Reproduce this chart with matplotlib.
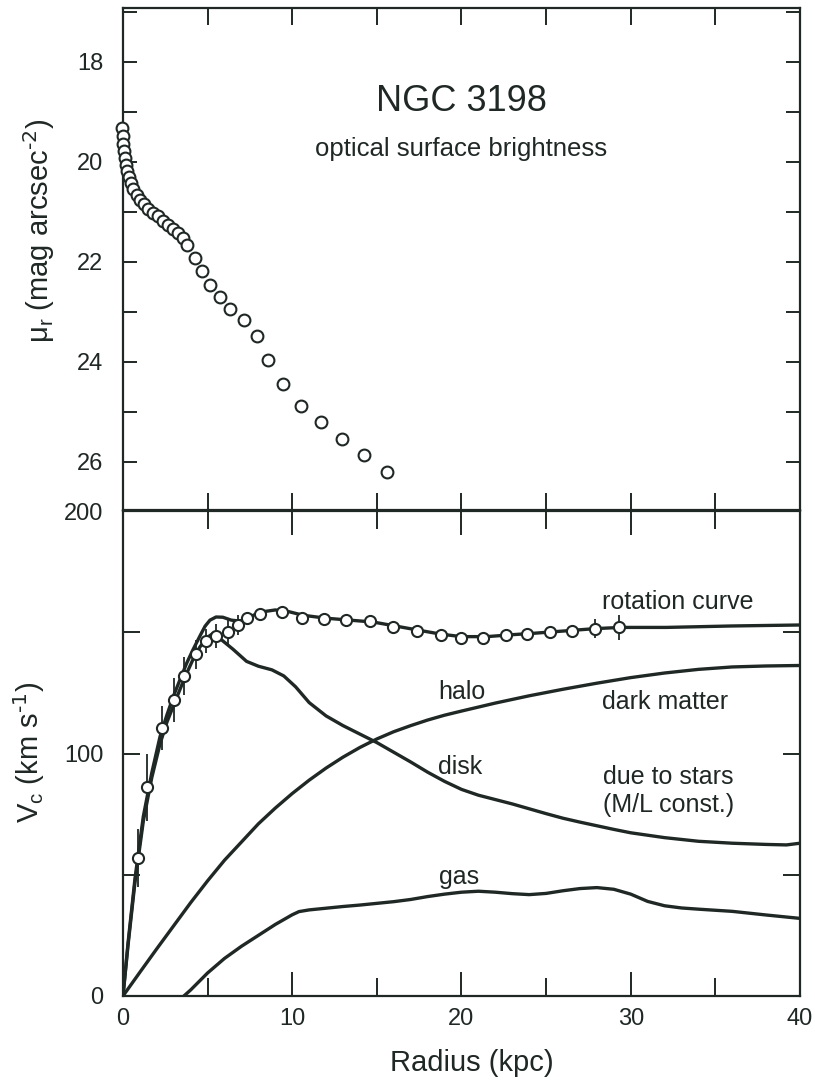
import matplotlib
matplotlib.use("Agg")
import matplotlib.pyplot as plt
from matplotlib.ticker import MultipleLocator

plt.rcParams['font.family'] = ['Liberation Sans', 'DejaVu Sans']
plt.rcParams['mathtext.default'] = 'regular'

ink = '#1f2824'

# 上图：光学面亮度
sb_r = [-0.08, 0.0, 0.02, 0.06, 0.12, 0.18, 0.26, 0.35, 0.45, 0.61, 0.81, 1.0, 1.24, 1.5,
        1.79, 2.09, 2.38, 2.68, 2.97, 3.27, 3.53, 3.8, 4.25, 4.65, 5.14, 5.73, 6.32, 7.17,
        7.9, 8.59, 9.47, 10.5, 11.7, 12.92, 14.24, 15.58]
sb_mu = [19.33, 19.49, 19.65, 19.79, 19.93, 20.06, 20.19, 20.31, 20.43, 20.54, 20.66, 20.76,
         20.85, 20.94, 21.03, 21.09, 21.18, 21.26, 21.35, 21.43, 21.53, 21.66, 21.92, 22.18,
         22.46, 22.71, 22.95, 23.16, 23.48, 23.96, 24.44, 24.89, 25.21, 25.55, 25.86, 26.21]

# 下图：旋转曲线观测点
rc_r = [0.9, 1.4, 2.3, 3.0, 3.6, 4.3, 4.9, 5.5, 6.2, 6.8, 7.3, 8.1, 9.4, 10.6, 11.9, 13.2,
        14.6, 15.95, 17.4, 18.8, 20.0, 21.3, 22.6, 23.85, 25.25, 26.5, 27.9, 29.3]
rc_v = [57, 86, 110.5, 122, 132, 141, 146.5, 148.5, 150, 153, 156, 157.5, 158.3, 156, 155.5,
        155, 154.5, 152.3, 150.5, 148.9, 147.5, 147.5, 148.9, 149.3, 150.3, 150.6, 151.5, 152]
rc_err = [12, 14, 9, 9, 8, 6, 5, 5, 5, 4, 2, 2, 2, 2, 2, 2,
          2, 2, 2, 2, 2, 2, 2, 2, 2, 2, 4, 5]

# 模型曲线
tot_r = [0, 0.3, 0.71, 1.2, 1.7, 2.19, 2.6, 3.0, 3.4, 3.76, 4.15, 4.55, 4.85, 5.14, 5.5,
         5.9, 6.4, 6.9, 7.4, 8.1, 9.0, 9.8, 10.65, 12.0, 13.4, 14.8, 16.0, 17.35, 18.8,
         20.0, 21.5, 23.0, 24.3, 26.0, 27.9, 29.4, 32.1, 36.0, 40.0]
tot_v = [0, 22, 48.5, 74, 92, 107, 116, 124, 131, 137.2, 143, 148.5, 152.5, 155, 156.3,
         156.2, 155, 154.6, 156, 158.3, 159.2, 158.5, 157, 155.8, 155, 154.2, 152.7, 151,
         149.2, 148.2, 148.2, 149, 149.6, 150.5, 151.5, 152, 152, 152.6, 153]

disk_r = [0, 0.3, 0.71, 1.2, 1.7, 2.19, 2.6, 3.0, 3.4, 3.76, 4.15, 4.55, 5.0, 5.34, 5.8,
          6.5, 7.3, 8.0, 8.8, 9.5, 10.2, 11.0, 12.0, 13.0, 14.0, 15.0, 16.0, 17.0, 18.0,
          19.0, 20.0, 21.0, 22.0, 23.0, 24.0, 25.0, 26.0, 27.0, 28.0, 29.0, 30.0, 32.0,
          34.0, 36.0, 38.0, 39.2, 40.0]
disk_v = [0, 21, 47, 72, 90, 104, 113, 120, 127, 133, 139, 144, 148, 149.6, 147,
          143, 138, 136, 134.5, 132, 127.5, 121, 115.5, 111.5, 108, 104.5, 100.5, 96.5, 92.3,
          88.5, 85.2, 82.8, 81, 79.2, 77.2, 75.2, 73.3, 71.7, 70.2, 68.7, 67.3, 65.3,
          63.8, 63, 62.5, 62.3, 63]

halo_r = [0, 1, 2, 3, 4, 5, 6, 7, 8, 9, 10, 11, 12, 13, 14, 15, 16, 17, 18, 19, 20, 22,
          24, 26, 28, 30, 32, 34, 36, 38, 40]
halo_v = [0, 9.8, 19.5, 29, 38.5, 47.5, 56, 63.5, 71, 77.5, 83.5, 89, 94, 98.5, 102.5,
          106, 109, 111.5, 113.8, 115.8, 117.5, 120.8, 123.8, 126.5, 129, 131.3, 133.2,
          134.7, 135.7, 136.1, 136.3]

gas_r = [3.6, 4, 5, 6, 7, 8, 9, 10, 10.4, 11, 12, 13, 14, 15, 16, 17, 18, 19, 20, 21, 22,
         23, 24, 25, 26, 27, 28, 29, 30, 31, 32, 33, 34, 36, 38, 40]
gas_v = [0, 2.5, 9.5, 15.5, 20.5, 25, 29.5, 33.5, 34.8, 35.5, 36.2, 36.9, 37.5, 38.2,
         38.9, 39.8, 41, 42, 42.8, 43.2, 42.8, 42.2, 41.8, 42.3, 43.4, 44.3, 44.7, 44,
         42, 39, 37.2, 36.3, 35.8, 34.9, 33.4, 32]

fig = plt.figure(figsize=(8.15, 10.82), dpi=100)
ax1 = fig.add_axes([0.1509, 0.5287, 0.8307, 0.4640])
ax2 = fig.add_axes([0.1509, 0.0795, 0.8307, 0.4482])

for ax in (ax1, ax2):
    for s in ax.spines.values():
        s.set_linewidth(1.6)
        s.set_color(ink)
    ax.set_xlim(0, 40)

# 上图
ax1.plot(sb_r, sb_mu, 'o', ms=8.5, mfc='white', mec=ink, mew=1.5, clip_on=False, zorder=3)
ax1.set_ylim(26.96, 16.92)
ax1.xaxis.set_major_locator(MultipleLocator(5))
ax1.yaxis.set_major_locator(MultipleLocator(2))
ax1.yaxis.set_minor_locator(MultipleLocator(1))
ax1.tick_params(axis='x', which='both', direction='in', top=True, bottom=True,
                length=12, width=1.4, color=ink, labelbottom=False)
ax1.tick_params(axis='y', which='both', direction='in', left=True, right=True,
                length=10, width=1.4, color=ink, labelsize=17, pad=14, labelcolor=ink)
ax1.set_ylabel(r'μ$_{r}$ (mag arcsec$^{\text{-2}}$)', fontsize=21, color=ink, va='center')
ax1.yaxis.set_label_coords(-0.124, 0.556)
ax1.text(20.0, 18.8, 'NGC 3198', fontsize=26, ha='center', va='center', color=ink)
ax1.text(20.0, 19.74, 'optical surface brightness', fontsize=18.5, ha='center',
         va='center', color=ink)

# 下图
lw = 2.4
ax2.plot(tot_r, tot_v, '-', color=ink, lw=lw, zorder=2)
ax2.plot(disk_r, disk_v, '-', color=ink, lw=lw, zorder=2)
ax2.plot(halo_r, halo_v, '-', color=ink, lw=lw, zorder=2)
ax2.plot(gas_r, gas_v, '-', color=ink, lw=lw, zorder=2)
ax2.errorbar(rc_r, rc_v, yerr=rc_err, fmt='o', ms=8, mfc='white', mec=ink, mew=1.5,
             ecolor=ink, elinewidth=1.3, capsize=0, zorder=3)
ax2.set_ylim(0, 200)
ax2.xaxis.set_major_locator(MultipleLocator(10))
ax2.xaxis.set_minor_locator(MultipleLocator(5))
ax2.yaxis.set_major_locator(MultipleLocator(100))
ax2.yaxis.set_minor_locator(MultipleLocator(50))
ax2.tick_params(axis='x', which='major', direction='in', top=True, bottom=True,
                length=17, width=1.4, color=ink, labelsize=17, pad=9, labelcolor=ink)
ax2.tick_params(axis='x', which='minor', direction='in', top=True, bottom=True,
                length=13, width=1.4, color=ink)
ax2.tick_params(axis='y', which='both', direction='in', left=True, right=True,
                length=12, width=1.4, color=ink, labelsize=17, pad=14, labelcolor=ink)
ax2.set_ylabel(r'V$_{c}$ (km s$^{\text{-1}}$)', fontsize=21, color=ink, va='center')
ax2.yaxis.set_label_coords(-0.139, 0.503)
ax2.set_xlabel('Radius (kpc)', fontsize=21, color=ink, va='center')
ax2.xaxis.set_label_coords(0.515, -0.138)

ax2.text(28.3, 162.5, 'rotation curve', fontsize=18, va='center', color=ink)
ax2.text(18.6, 125.4, 'halo', fontsize=18, va='center', color=ink)
ax2.text(28.3, 121.2, 'dark matter', fontsize=18, va='center', color=ink)
ax2.text(18.6, 94.4, 'disk', fontsize=18, va='center', color=ink)
ax2.text(28.36, 90.3, 'due to stars', fontsize=18, va='center', color=ink)
ax2.text(28.36, 78.8, '(M/L const.)', fontsize=18, va='center', color=ink)
ax2.text(18.67, 49.1, 'gas', fontsize=18, va='center', color=ink)

fig.savefig('out.png', dpi=100)
